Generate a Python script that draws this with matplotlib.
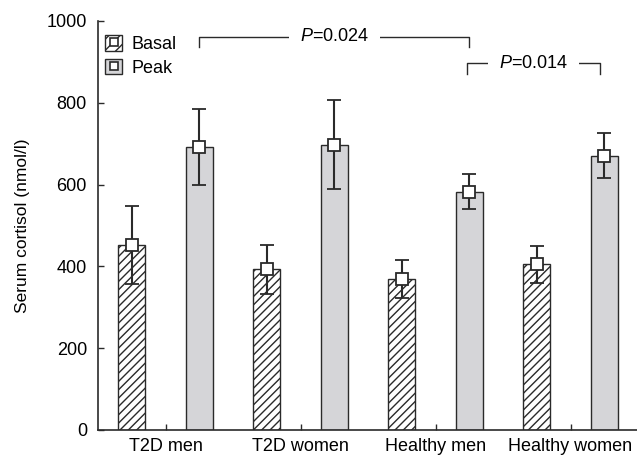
import matplotlib
matplotlib.use("Agg")
import matplotlib.pyplot as plt
import numpy as np
from matplotlib.patches import Patch
from matplotlib.lines import Line2D

# values
groups = ["T2D men", "T2D women", "Healthy men", "Healthy women"]
basal = [452, 393, 369, 405]
basal_err = [95, 60, 47, 45]
peak = [692, 698, 583, 671]
peak_err = [94, 108, 43, 56]

plt.rcParams['font.family'] = ['Liberation Sans', 'DejaVu Sans']
plt.rcParams['mathtext.fontset'] = 'custom'
plt.rcParams['mathtext.rm'] = 'Liberation Sans'
plt.rcParams['mathtext.it'] = 'Liberation Sans:italic'
plt.rcParams['hatch.linewidth'] = 1.0
plt.rcParams['hatch.color'] = '#222222'

dark = '#2a2a2a'
grey = '#d5d5d8'
fs = 13

fig = plt.figure(figsize=(6.37, 4.57), dpi=100)
ax = fig.add_axes([98 / 637, 27 / 457, 540 / 637, 409 / 457])

x = np.arange(len(groups)) + 0.5
w = 0.2
off = 0.25

ax.bar(x - off, basal, w, color='white', edgecolor=dark, hatch='////',
       linewidth=1.0, zorder=2)
ax.bar(x + off, peak, w, color=grey, edgecolor=dark, linewidth=1.0, zorder=2)

for xs, ys, es in [(x - off, basal, basal_err), (x + off, peak, peak_err)]:
    ax.errorbar(xs, ys, yerr=es, fmt='s', mfc='white', mec=dark, mew=1.3,
                ms=8, ecolor=dark, elinewidth=1.5, capsize=5, capthick=1.5,
                zorder=3)

ax.set_xlim(0, 4)
ax.set_ylim(0, 1000)
ax.set_xticks(x)
ax.set_xticklabels(groups, fontsize=fs)
ax.set_yticks(np.arange(0, 1001, 200))
ax.tick_params(axis='y', direction='in', length=4, width=1, colors=dark,
               labelsize=fs, pad=8, labelcolor='black')
ax.tick_params(axis='x', direction='in', length=4, width=1, colors=dark,
               labelsize=fs, pad=6, labelcolor='black')
ax.set_ylabel("Serum cortisol (nmol/l)", fontsize=12.5, labelpad=12)

for s in ['top', 'right']:
    ax.spines[s].set_visible(False)
for s in ['left', 'bottom']:
    ax.spines[s].set_color(dark)
    ax.spines[s].set_linewidth(1.2)

# significance brackets
def bracket(x0, x1, y, drop, label):
    ax.plot([x0, x0, x1, x1], [y - drop, y, y, y - drop], color=dark,
            lw=1.0, zorder=4, clip_on=False)
    ax.text((x0 + x1) / 2, y, label, ha='center', va='center', fontsize=fs,
            zorder=5, bbox=dict(facecolor='white', edgecolor='none', pad=8))

bracket(0.75, 2.75, 961, 24, "$P$=0.024")
bracket(2.73, 3.72, 897, 27, "$P$=0.014")

# legend
mk = Line2D([], [], marker='s', ls='none', mfc='white', mec=dark, mew=1.2, ms=6)
h_basal = Patch(facecolor='white', edgecolor=dark, hatch='///', lw=1.0)
h_peak = Patch(facecolor=grey, edgecolor=dark, lw=1.0)
ax.legend([(h_basal, mk), (h_peak, mk)], ["Basal", "Peak"], loc='upper left',
          bbox_to_anchor=(0.013, 0.965), frameon=False, fontsize=fs,
          handlelength=0.95, handleheight=0.95, handletextpad=0.5,
          labelspacing=0.3, borderpad=0, borderaxespad=0)

fig.savefig("out.png", dpi=100)
